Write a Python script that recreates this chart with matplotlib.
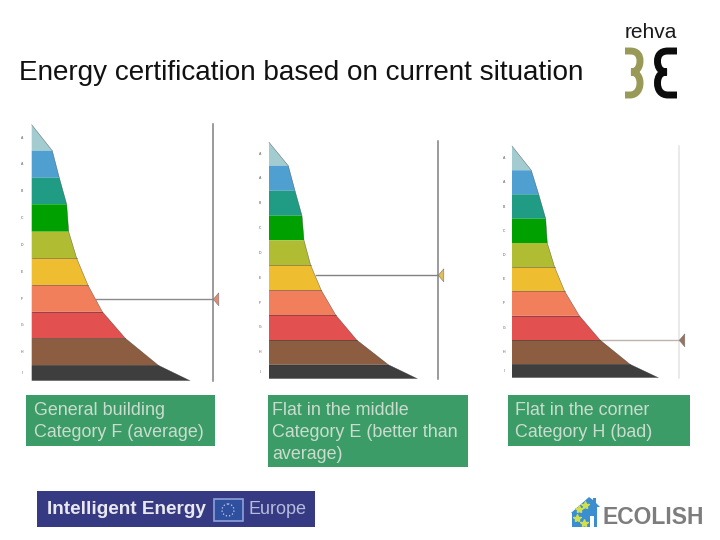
#!/usr/bin/env python

import matplotlib
matplotlib.use('Agg')
import matplotlib.pyplot as plt
from matplotlib.patches import Rectangle, Polygon, PathPatch, Circle
from matplotlib.path import Path

plt.rcParams['font.family'] = ['Liberation Sans', 'DejaVu Sans']

# band colours, top to bottom
colors = ['#a3ccd0', '#4f9fd1', '#219c84', '#00a000', '#b0bd33',
          '#eebd30', '#f27f5c', '#e2504f', '#8c5d40', '#3e3e3e']
letters = ['A', 'A', 'B', 'C', 'D', 'E', 'F', 'G', 'H', 'I']

y1 = [124.7, 150.7, 177.7, 204.3, 231.7, 258.3, 285.3, 311.7, 338.3, 365.3, 380.7]
x1 = [31.7, 52.3, 59.3, 66.7, 68.7, 76.7, 88, 102.3, 125.3, 158.3, 190]
y2 = [142.3, 165.7, 190.7, 215.7, 240.3, 265.3, 290.3, 315, 340, 364.7, 378.7]
x2 = [269, 288.3, 295, 302, 304, 310.7, 321.3, 335.7, 356.7, 388.3, 417.3]
y3 = [146, 170.3, 194.3, 218.7, 243, 267.3, 291.3, 315.7, 340, 364.3, 377.7]
x3 = [512, 531.3, 538.7, 545.7, 547.3, 554.7, 564.7, 579.3, 600, 630, 658.3]

captions = [['General building', 'Category F (average)'],
            ['Flat in the middle', 'Category E (better than', 'average)'],
            ['Flat in the corner', 'Category H (bad)']]

fig = plt.figure(figsize=(7.2, 5.4), dpi=100)
ax = fig.add_axes([0, 0, 1, 1])
ax.set_xlim(0, 720)
ax.set_ylim(540, 0)
ax.axis('off')


def ladder(xs, ys, label_x, vx, vtop, my, mx, mcolor, line_color, vcolor):
    for i in range(10):
        ax.fill([xs[0], xs[i], xs[i + 1], xs[0]], [ys[i], ys[i], ys[i + 1], ys[i + 1]],
                color=colors[i], lw=0, zorder=2)
        ax.text(label_x, (ys[i] + ys[i + 1]) / 2, letters[i], fontsize=2.5, color='#555555',
                ha='center', va='center')
        if i > 4:
            ax.plot([xs[0], xs[i]], [ys[i], ys[i]], color='#333333', lw=0.5, alpha=0.6, zorder=3)
    ax.plot(xs, ys, color='#333333', lw=0.4, alpha=0.6, zorder=3)
    ax.plot([vx, vx], [vtop, ys[-1]], color=vcolor, lw=1.1, zorder=1)
    ax.plot([mx, vx], [my, my], color=line_color, lw=1.0, zorder=1)
    ax.add_patch(Polygon([[vx, my], [vx + 5.5, my - 6.5], [vx + 5.5, my + 6.5]], closed=True,
                         facecolor=mcolor, edgecolor='#777777', lw=0.4, zorder=4))


ladder(x1, y1, 22.3, 213.3, 124, 299.3, 96, '#e58a72', '#8a8a8a', '#808080')
ladder(x2, y2, 260, 438.3, 141, 275.3, 316, '#e3bd55', '#808080', '#808080')
ladder(x3, y3, 504, 679.3, 146, 340.3, 600, '#97735c', '#bdb5ae', '#e4e4e4')

ax.text(19, 73, 'Energy certification based on current situation', fontsize=20.1,
        color='#111111', ha='left', va='center')

# green caption boxes
boxes = [(26, 395, 189, 51), (268, 395, 200, 72), (508, 395, 182, 51)]
text_x = [33.5, 272, 515]
for (bx, by, bw, bh), cap, tx in zip(boxes, captions, text_x):
    ax.add_patch(Rectangle((bx, by), bw, bh, facecolor='#3c9c68', lw=0))
    for j, line in enumerate(cap):
        ax.text(tx, 410.5 + 21.8 * j, line, fontsize=12.9, color='#cadccd', ha='left', va='center')

# rehva logo
ax.text(650.5, 33, 'rehva', fontsize=15, color='#1a1a1a', ha='center', va='center')
codes = [Path.MOVETO, Path.LINETO, Path.CURVE4, Path.CURVE4, Path.CURVE4, Path.CURVE4, Path.CURVE4, Path.CURVE4,
         Path.CURVE4, Path.CURVE4, Path.CURVE4, Path.CURVE4, Path.CURVE4, Path.CURVE4, Path.LINETO]
three = Path([(625, 51), (630, 51), (638, 51), (640, 56), (640, 61), (640, 68), (636, 72), (631, 72),
              (636, 72), (640, 76), (640, 83), (640, 90), (636, 95), (630, 95), (625, 95)], codes)
ax.add_patch(PathPatch(three, facecolor='none', edgecolor='#9a9a58', lw=5, capstyle='butt'))
curly = Path([(677, 51), (668, 51), (660, 51), (657.5, 56), (657.5, 61), (657.5, 68), (661, 72), (667, 72),
              (661, 72), (657.5, 76), (657.5, 83), (657.5, 90), (661, 95), (668, 95), (677, 95)], codes)
ax.add_patch(PathPatch(curly, facecolor='none', edgecolor='#0c0c0c', lw=5, capstyle='butt'))

# Intelligent Energy banner
ax.add_patch(Rectangle((37, 491), 278, 36, facecolor='#363a82', lw=0))
ax.text(47, 509.5, 'Intelligent Energy', fontsize=13.7, fontweight='bold', color='#e8e8ee',
        ha='left', va='center')
ax.add_patch(Rectangle((213.5, 499), 29, 22, facecolor='#2f4f9f', edgecolor='#8fa0d8', lw=1.2))
ax.add_patch(Circle((228, 510), 6, facecolor='none', edgecolor='#c8d0e8', lw=0.9, ls=':'))
ax.text(248, 509.5, 'Europe', fontsize=13, color='#b5bcdc', ha='left', va='center')

# ECOLISH logo
ax.add_patch(Polygon([[571, 513], [589, 497], [593, 500], [593, 498], [596, 498], [596, 503],
                      [600, 507], [597, 507], [597, 527], [594, 527], [594, 516], [590, 516],
                      [590, 527], [572, 527], [572, 513]],
                     closed=True, facecolor='#3b8fd0', lw=0))
ax.plot([579, 585, 577, 584], [509, 505, 518, 523], ls='none', marker='*', ms=6, color='#d3e04e')
ax.text(603, 517.5, 'ECOLISH', fontsize=16.5, fontweight='bold', color='#7d7d7d',
        ha='left', va='center')

plt.savefig('out.png', dpi=100)
